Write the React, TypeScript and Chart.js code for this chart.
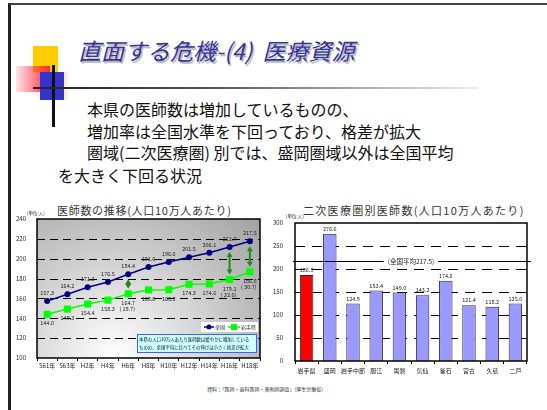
import React, { useEffect, useRef } from "react";
import { Chart, registerables } from "chart.js";
Chart.register(...registerables);

// ---- data: left chart (physicians per 100k, trend) ----
const years = ["S61年", "S63年", "H2年", "H4年", "H6年", "H8年", "H10年", "H12年", "H14年", "H16年", "H18年"];
const nationalValues = [157.3, 164.2, 171.3, 176.5, 184.4, 191.6, 196.6, 201.5, 206.1, 211.7, 217.5];
const iwateValues = [144.0, 149.3, 154.4, 158.3, 164.7, 168.6, 168.8, 174.3, 174.6, 179.1, 186.8];
const gapIndices = [4, 9, 10];
const gapLabels = ["( 19.7)", "( 32.6)", "( 30.7)"];
const nationalLabel = "全国";
const iwateLabel = "岩手県";
const noteLines = ["本県の人口10万人あたり医師数は緩やかに増加している", "ものの、全国平均に比べてその伸びは小さく格差が拡大"];
const unitLabel = "(単位:人)";

// ---- data: right chart (by secondary medical area) ----
const areas = ["岩手県", "盛岡", "岩手中部", "胆江", "両磐", "気仙", "釜石", "宮古", "久慈", "二戸"];
const areaValues = [186.8, 276.6, 124.9, 153.4, 149.0, 143.2, 174.6, 121.4, 118.2, 125.0];
const nationalAverage = 217.5;
const averageLabel = "(全国平均217.5)";

// ---- text ----
const slideTitle = "直面する危機-(4)  医療資源";
const bodyLines = [
  "本県の医師数は増加しているものの、",
  "増加率は全国水準を下回っており、格差が拡大",
  "圏域(二次医療圏) 別では、盛岡圏域以外は全国平均",
  "を大きく下回る状況",
];
const leftTitle = "医師数の推移(人口10万人あたり)";
const rightTitle = "二次医療圏別医師数(人口10万人あたり)";
const sourceText = "資料：「医師・歯科医師・薬剤師調査」(厚生労働省)";

const JP = "'Noto Sans CJK JP', 'Liberation Sans', sans-serif";
const tickFont = { family: JP, size: 6 };

function fmt(v: number) {
  return v.toFixed(1);
}

function drawArrow(ctx: CanvasRenderingContext2D, x: number, yTop: number, yBot: number) {
  const col = "#1f8a1f";
  ctx.save();
  ctx.strokeStyle = col;
  ctx.fillStyle = col;
  ctx.lineWidth = 2;
  ctx.beginPath();
  ctx.moveTo(x, yTop + 4);
  ctx.lineTo(x, yBot - 4);
  ctx.stroke();
  ctx.beginPath();
  ctx.moveTo(x, yTop);
  ctx.lineTo(x - 3, yTop + 5);
  ctx.lineTo(x + 3, yTop + 5);
  ctx.closePath();
  ctx.fill();
  ctx.beginPath();
  ctx.moveTo(x, yBot);
  ctx.lineTo(x - 3, yBot - 5);
  ctx.lineTo(x + 3, yBot - 5);
  ctx.closePath();
  ctx.fill();
  ctx.restore();
}

const linePlugin = {
  id: "lineDeco",
  beforeDraw(chart: any) {
    const { ctx, chartArea: a } = chart;
    ctx.save();
    const cx = a.left + a.width * 0.35;
    const g = ctx.createRadialGradient(cx, a.bottom, 0, cx, a.bottom, a.width * 0.95);
    g.addColorStop(0, "#ffffff");
    g.addColorStop(1, "#9c9c9c");
    ctx.fillStyle = g;
    ctx.fillRect(a.left, a.top, a.width, a.height);
    const y = chart.scales.y;
    ctx.strokeStyle = "#000";
    ctx.lineWidth = 1;
    ctx.setLineDash([8, 5]);
    y.ticks.forEach((t: any) => {
      if (t.value > y.min && t.value < y.max) {
        const py = Math.round(y.getPixelForValue(t.value)) + 0.5;
        ctx.beginPath();
        ctx.moveTo(a.left, py);
        ctx.lineTo(a.right, py);
        ctx.stroke();
      }
    });
    ctx.setLineDash([]);
    ctx.lineWidth = 1.5;
    ctx.strokeRect(a.left, a.top, a.width, a.height);
    ctx.font = `4.5px ${JP}`;
    ctx.fillStyle = "#222";
    ctx.textAlign = "left";
    ctx.textBaseline = "middle";
    ctx.fillText(unitLabel, a.left - 10, a.top - 6);
    ctx.restore();
  },
  afterDatasetsDraw(chart: any) {
    const { ctx, chartArea: a } = chart;
    const m0 = chart.getDatasetMeta(0).data;
    const m1 = chart.getDatasetMeta(1).data;
    ctx.save();
    // arrows
    gapIndices.forEach((i) => {
      drawArrow(ctx, m0[i].x, m0[i].y + 5, m1[i].y - 5);
    });
    ctx.font = `5.5px ${JP}`;
    ctx.fillStyle = "#222";
    ctx.textAlign = "center";
    ctx.textBaseline = "middle";
    nationalValues.forEach((v, i) => {
      ctx.fillText(fmt(v), m0[i].x, m0[i].y - 8);
    });
    iwateValues.forEach((v, i) => {
      ctx.fillText(fmt(v), m1[i].x, m1[i].y + 9);
    });
    gapIndices.forEach((i, k) => {
      ctx.fillText(gapLabels[k], m1[i].x - 1, m1[i].y + 15);
    });
    // legend
    const lx = a.right - 59;
    const ly = a.bottom - 36;
    ctx.fillStyle = "#fff";
    ctx.fillRect(lx, ly, 57, 10);
    ctx.lineWidth = 1.5;
    ctx.strokeStyle = "#000080";
    ctx.beginPath();
    ctx.moveTo(lx + 3, ly + 5);
    ctx.lineTo(lx + 13, ly + 5);
    ctx.stroke();
    ctx.fillStyle = "#000080";
    ctx.beginPath();
    ctx.arc(lx + 8, ly + 5, 2.5, 0, Math.PI * 2);
    ctx.fill();
    ctx.fillStyle = "#222";
    ctx.textAlign = "left";
    ctx.font = `5px ${JP}`;
    ctx.fillText(nationalLabel, lx + 14, ly + 5);
    ctx.strokeStyle = "#00ff00";
    ctx.beginPath();
    ctx.moveTo(lx + 27, ly + 5);
    ctx.lineTo(lx + 39, ly + 5);
    ctx.stroke();
    ctx.fillStyle = "#00ff00";
    ctx.fillRect(lx + 30, ly + 2, 6, 6);
    ctx.fillStyle = "#222";
    ctx.fillText(iwateLabel, lx + 40, ly + 5);
    // note box
    const nx = a.left + 100;
    const ny = a.bottom - 24;
    const nw = 119;
    const nh = 18;
    ctx.fillStyle = "#ccffff";
    ctx.fillRect(nx, ny, nw, nh);
    ctx.strokeStyle = "#3366ff";
    ctx.lineWidth = 1;
    ctx.strokeRect(nx + 0.5, ny + 0.5, nw, nh);
    ctx.fillStyle = "#111";
    ctx.font = `4.4px ${JP}`;
    ctx.fillText(noteLines[0], nx + 2, ny + 5.5);
    ctx.fillText(noteLines[1], nx + 2, ny + 13);
    ctx.restore();
  },
};

const barPlugin = {
  id: "barDeco",
  beforeDatasetsDraw(chart: any) {
    const { ctx, chartArea: a } = chart;
    const y = chart.scales.y;
    ctx.save();
    ctx.strokeStyle = "#000";
    ctx.lineWidth = 1;
    ctx.setLineDash([10, 7]);
    y.ticks.forEach((t: any) => {
      if (t.value > y.min && t.value < y.max) {
        const py = Math.round(y.getPixelForValue(t.value)) + 0.5;
        ctx.beginPath();
        ctx.moveTo(a.left, py);
        ctx.lineTo(a.right, py);
        ctx.stroke();
      }
    });
    ctx.setLineDash([]);
    ctx.font = `4.5px ${JP}`;
    ctx.fillStyle = "#222";
    ctx.textAlign = "left";
    ctx.textBaseline = "middle";
    ctx.fillText(unitLabel, a.left - 9, a.top - 7);
    ctx.restore();
  },
  afterDatasetsDraw(chart: any) {
    const { ctx, chartArea: a } = chart;
    const y = chart.scales.y;
    const bars = chart.getDatasetMeta(0).data;
    ctx.save();
    ctx.strokeStyle = "#000";
    ctx.lineWidth = 1.5;
    ctx.strokeRect(a.left, a.top, a.width, a.height);
    ctx.font = `5.5px ${JP}`;
    ctx.fillStyle = "#222";
    ctx.textAlign = "center";
    ctx.textBaseline = "middle";
    areaValues.forEach((v, i) => {
      ctx.fillText(fmt(v), bars[i].x, bars[i].y - 5);
    });
    const py = Math.round(y.getPixelForValue(nationalAverage)) + 0.5;
    ctx.lineWidth = 1;
    ctx.beginPath();
    ctx.moveTo(a.left - 2, py);
    ctx.lineTo(a.right + 4, py);
    ctx.stroke();
    ctx.font = `6.5px ${JP}`;
    const cx = a.left + a.width * 0.5;
    const tw = ctx.measureText(averageLabel).width;
    ctx.fillStyle = "#fff";
    ctx.fillRect(cx - tw / 2 - 4, py - 4, tw + 8, 8);
    ctx.fillStyle = "#222";
    ctx.fillText(averageLabel, cx, py);
    ctx.restore();
  },
};

export default function App() {
  const lineRef = useRef<HTMLCanvasElement>(null);
  const barRef = useRef<HTMLCanvasElement>(null);

  useEffect(() => {
    const lineChart = new Chart(lineRef.current!, {
      type: "line",
      data: {
        labels: years,
        datasets: [
          {
            label: nationalLabel,
            data: nationalValues,
            borderColor: "#000080",
            backgroundColor: "#000080",
            borderWidth: 1.5,
            pointStyle: "circle",
            pointRadius: 3,
            pointBorderWidth: 0,
          },
          {
            label: iwateLabel,
            data: iwateValues,
            borderColor: "#00ff00",
            backgroundColor: "#00ff00",
            borderWidth: 1.5,
            pointStyle: "rect",
            pointRadius: 5,
            pointBorderWidth: 0,
          },
        ],
      },
      options: {
        responsive: false,
        animation: false,
        devicePixelRatio: 1,
        layout: { padding: { left: 0, right: 10, top: 14, bottom: 0 } },
        plugins: { legend: { display: false }, tooltip: { enabled: false } },
        scales: {
          x: {
            offset: true,
            grid: { display: true, drawOnChartArea: false, drawTicks: true, tickLength: 3, color: "#000", offset: true },
            border: { display: false },
            ticks: { font: tickFont, color: "#222", padding: 1, maxRotation: 0, autoSkip: false },
            afterFit: (s: any) => {
              s.height = 17;
            },
          },
          y: {
            min: 100,
            max: 240,
            ticks: { stepSize: 20, font: tickFont, color: "#222", padding: 3 },
            grid: { display: false },
            border: { display: false },
            afterFit: (s: any) => {
              s.width = 27;
            },
          },
        },
      } as any,
      plugins: [linePlugin],
    });

    const barChart = new Chart(barRef.current!, {
      type: "bar",
      data: {
        labels: areas,
        datasets: [
          {
            data: areaValues,
            backgroundColor: areaValues.map((_, i) => (i === 0 ? "#ff0000" : "#9999ff")),
            borderColor: "#2a2a2a",
            borderWidth: 1,
            barPercentage: 0.58,
            categoryPercentage: 1,
          },
        ],
      },
      options: {
        responsive: false,
        animation: false,
        devicePixelRatio: 1,
        layout: { padding: { left: 0, right: 13, top: 18, bottom: 0 } },
        plugins: { legend: { display: false }, tooltip: { enabled: false } },
        scales: {
          x: {
            grid: { display: true, drawOnChartArea: false, drawTicks: true, tickLength: 3, color: "#000", offset: true },
            border: { display: false },
            ticks: { font: tickFont, color: "#222", padding: 3, maxRotation: 0, autoSkip: false },
            afterFit: (s: any) => {
              s.height = 19;
            },
          },
          y: {
            min: 0,
            max: 300,
            ticks: { stepSize: 50, font: tickFont, color: "#222", padding: 4 },
            grid: { display: false },
            border: { display: false },
            afterFit: (s: any) => {
              s.width = 23;
            },
          },
        },
      } as any,
      plugins: [barPlugin],
    });

    return () => {
      lineChart.destroy();
      barChart.destroy();
    };
  }, []);

  const abs = (l: number, t: number): React.CSSProperties => ({ position: "absolute", left: l, top: t });

  return (
    <div style={{ position: "fixed", left: 0, top: 0, width: 547, height: 410, background: "#fff", overflow: "hidden", fontFamily: JP }}>
      {/* slide frame */}
      <div style={{ position: "absolute", left: 8, top: 3, width: 560, height: 420, borderLeft: "3px solid #222", borderTop: "2px solid #444" }} />
      {/* decoration */}
      <div style={{ position: "absolute", left: 33, top: 46, width: 25, height: 26, background: "#ffcc00" }} />
      <div style={{ position: "absolute", left: 16, top: 66, width: 34, height: 26, background: "linear-gradient(to right, rgba(255,40,60,0.12), #ff2a3a)" }} />
      <div style={{ position: "absolute", left: 40, top: 72, width: 24, height: 28, background: "#3333cc" }} />
      <div style={{ position: "absolute", left: 64, top: 72, width: 6, height: 28, background: "linear-gradient(to right, rgba(255,200,120,0.5), rgba(255,255,255,0))" }} />
      <div style={{ position: "absolute", left: 52, top: 65, width: 3, height: 62, background: "#111" }} />
      <div style={{ position: "absolute", left: 33, top: 87, width: 445, height: 2, background: "linear-gradient(to right, #222, #555 40%, rgba(200,200,200,0.3))" }} />
      {/* title */}
      <div
        style={{
          ...abs(78, 35),
          fontSize: 23,
          lineHeight: "30px",
          fontStyle: "italic",
          color: "#333399",
          whiteSpace: "pre",
          textShadow: "1.5px 1.5px 1px #b0b0b0",
        }}
      >
        {slideTitle}
      </div>
      {/* body */}
      {bodyLines.map((line, i) => (
        <div
          key={i}
          style={{
            ...abs(i === 3 ? 58 : 87, [98, 120, 141, 164][i]),
            fontSize: 16,
            lineHeight: "22px",
            color: "#111",
            whiteSpace: "pre",
          }}
        >
          {line}
        </div>
      ))}
      {/* chart titles */}
      <div style={{ ...abs(57, 202), fontSize: 11, lineHeight: "16px", letterSpacing: 0.7, color: "#333", whiteSpace: "pre" }}>{leftTitle}</div>
      <div style={{ ...abs(303, 202), fontSize: 11, lineHeight: "16px", letterSpacing: 1.3, color: "#333", whiteSpace: "pre" }}>{rightTitle}</div>
      {/* charts */}
      <canvas ref={lineRef} width={260} height={170} style={{ position: "absolute", left: 10, top: 205, width: 260, height: 170 }} />
      <canvas ref={barRef} width={268} height={175} style={{ position: "absolute", left: 272, top: 205, width: 268, height: 175 }} />
      {/* source */}
      <div style={{ ...abs(207, 385), fontSize: 5, lineHeight: "8px", color: "#333", whiteSpace: "pre" }}>{sourceText}</div>
    </div>
  );
}
